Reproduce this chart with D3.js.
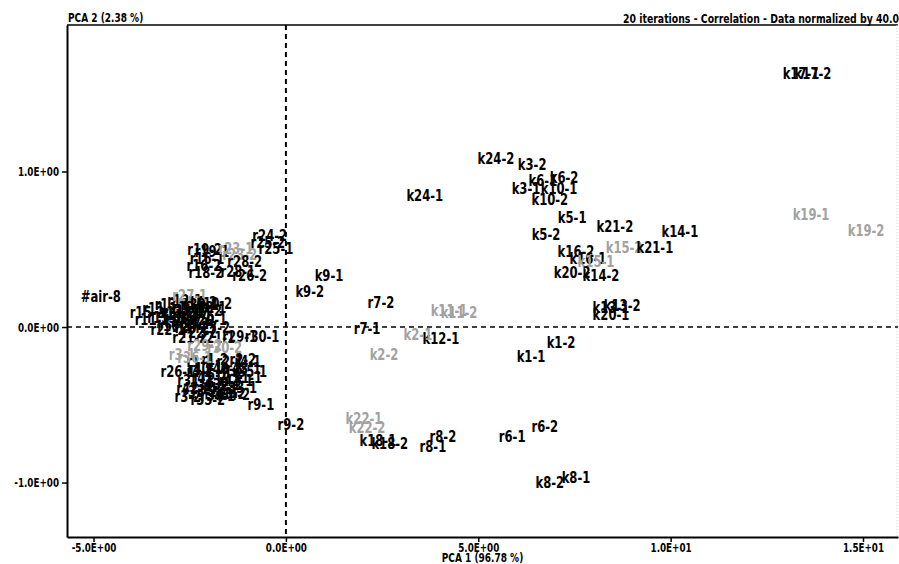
<!DOCTYPE html>
<html>
<head>
<meta charset="utf-8">
<script src="https://cdn.jsdelivr.net/npm/d3@7"></script>
<style>
	html, body { margin: 0; padding: 0; background: #fff; }
	svg { display: block; }
	.lbl { font-family: "Liberation Sans Narrow", "DejaVu Sans Condensed", sans-serif; font-weight: bold; font-size: 15px; }
	.axis text, .title { font-family: "Liberation Sans Narrow", "DejaVu Sans Condensed", sans-serif; font-weight: bold; font-size: 12.5px; fill: #000; }
</style>
</head>
<body>
<svg id="chart"></svg>
<script>

// Sample names, PCA 1 and PCA 2 scores
var labels = [
	'k17-1', 'k17-2', 'k24-2', 'k3-2', 'k6-2', 'k6-1', 'k3-1', 'k10-1', 'k10-2', 'k24-1',
	'k5-1', 'k5-2', 'k21-2', 'k15-2', 'k21-1', 'k14-1', 'k19-1', 'k19-2', 'k16-2', 'k16-1',
	'k15-1', 'k20-2', 'k14-2', 'k13-1', 'k13-2', 'k20-1', 'k1-2', 'k1-1', 'k11-1', 'k11-2',
	'k12-1', 'k2-1', 'k2-2', 'k9-1', 'k9-2', 'k22-1', 'k22-2', 'k18-1', 'k18-2', 'k8-1',
	'k8-2', 'r6-1', 'r6-2', 'r7-1', 'r7-2', 'r8-1', 'r8-2', 'r9-1', 'r9-2', 'r24-2',
	'r25-2', 'r25-1', '#air-8',
	// upper left group
	'r19-2', 'r19-1', 'r16-1', 'r16-2', 'r18-2', 'r23-1', 'r23-2', 'r28-2', 'r28-1', 'r26-2',
	// middle left group
	'r15-2', 'r11-2', 'r11-1', 'r15-1', 'r13-1', 'r13-2', 'r12-1', 'r12-2', 'r14-1', 'r14-2',
	'r17-1', 'r17-2', 'r20-1', 'r20-2', 'r10-1', 'r10-2', 'r22-1', 'r22-2', 'r27-1', 'r27-2',
	'r21-2', 'r21-1', 'r29-1', 'r30-1', 'r29-2', 'r30-2',
	'r37-1', 'r37-2', 'r38-1', 'r38-2', 'r39-1', 'r39-2',
	// lower left group
	'r3-1', 'r3-2', 'r26-1', 'r1-1', 'r1-2', 'r2-1', 'r2-2', 'r4-1', 'r4-2', 'r5-1',
	'r5-2', 'r31-1', 'r31-2', 'r32-1', 'r32-2', 'r33-1', 'r33-2', 'r34-1', 'r34-2', 'r35-1',
	'r35-2', 'r36-1',
	'r40-1', 'r40-2', 'r41-1', 'r41-2', 'r42-1', 'r42-2', 'r43-1', 'r43-2'
];

var pc1 = [
	13.39, 13.70, 5.46, 6.40, 7.23, 6.68, 6.24, 7.10, 6.86, 3.61,
	7.44, 6.76, 8.55, 8.79, 9.59, 10.24, 13.65, 15.08, 7.54, 7.85,
	8.06, 7.44, 8.19, 8.45, 8.74, 8.45, 7.15, 6.37, 4.24, 4.50,
	4.03, 3.43, 2.55, 1.12, 0.62, 2.03, 2.11, 2.39, 2.70, 7.54,
	6.86, 5.88, 6.73, 2.11, 2.47, 3.82, 4.08, -0.65, 0.13, -0.42,
	-0.47, -0.26, -4.81,
	-2.11, -1.92, -2.05, -2.13, -2.08, -1.30, -1.20, -1.07, -1.25, -0.94,
	-3.61, -3.48, -3.28, -3.15, -2.96, -2.81, -2.63, -2.50, -2.37, -2.24,
	-2.70, -2.11, -1.98, -2.44, -2.89, -1.85, -3.07, -2.24, -2.50, -1.90,
	-2.50, -1.77, -1.20, -0.62, -2.11, -1.59,
	-2.60, -2.30, -2.00, -2.75, -2.20, -2.45,
	-2.70, -2.55, -2.81, -2.24, -1.85, -1.46, -1.12, -0.99, -2.24, -1.85,
	-1.46, -1.07, -2.37, -2.00, -1.59, -1.20, -2.24, -1.77, -1.38, -0.94,
	-2.03, -2.37,
	-2.10, -1.60, -1.30, -2.00, -1.70, -2.40, -1.10, -1.50
];

var pc2 = [
	1.63, 1.63, 1.08, 1.04, 0.96, 0.94, 0.89, 0.89, 0.82, 0.84,
	0.70, 0.59, 0.64, 0.51, 0.51, 0.61, 0.72, 0.62, 0.48, 0.44,
	0.42, 0.35, 0.33, 0.12, 0.135, 0.08, -0.10, -0.19, 0.10, 0.09,
	-0.08, -0.05, -0.18, 0.33, 0.225, -0.59, -0.65, -0.73, -0.75, -0.97,
	-1.00, -0.71, -0.64, -0.01, 0.155, -0.77, -0.71, -0.50, -0.63, 0.585,
	0.54, 0.50, 0.19,
	0.495, 0.48, 0.44, 0.39, 0.35, 0.50, 0.46, 0.42, 0.355, 0.33,
	0.09, 0.045, 0.116, 0.058, 0.14, 0.09, 0.17, 0.12, 0.07, 0.155,
	0.03, 0.10, 0.045, -0.006, 0.006, 0.15, -0.02, -0.04, 0.20, -0.006,
	-0.07, -0.07, -0.064, -0.064, -0.12, -0.135,
	0.10, 0.04, 0.12, 0.06, 0.14, 0.02,
	-0.18, -0.45, -0.29, -0.225, -0.21, -0.225, -0.21, -0.225, -0.29, -0.31,
	-0.30, -0.33, -0.35, -0.38, -0.37, -0.39, -0.42, -0.445, -0.44, -0.29,
	-0.47, -0.20,
	-0.27, -0.27, -0.35, -0.33, -0.40, -0.40, -0.27, -0.43
];

// Samples printed in the lighter shade
var faded = [ 'k15-2', 'k19-1', 'k19-2', 'k15-1', 'k11-1', 'k11-2', 'k2-1', 'k2-2', 'k22-1', 'k22-2',
	'r23-1', 'r23-2', 'r27-1', 'r29-2', 'r30-2', 'r3-1', 'r36-1' ];

var xTicks = [ -5, 0, 5, 10, 15 ];
var yTicks = [ -1, 0, 1 ];

var xTitle = 'PCA 1 (96.78 %)';
var yTitle = 'PCA 2 (2.38 %)';
var subTitle = '20 iterations - Correlation - Data normalized by 40.00';

var width = 899;
var height = 564;
var margin = { top: 25, right: 1, bottom: 27, left: 67 };

var svg = d3.select( '#chart' )
	.attr( 'width', width )
	.attr( 'height', height );

var x = d3.scaleLinear()
	.domain( [ -5.69, 15.91 ] )
	.range( [ margin.left, width - margin.right ] );

var y = d3.scaleLinear()
	.domain( [ -1.35, 1.942 ] )
	.range( [ height - margin.bottom, margin.top ] );

// 1.0E+00 style numbers
var sci = function ( v ) {
	var s = v.toExponential( 1 ).toUpperCase();
	return s.replace( /E([+-])(\d)$/, 'E$10$2' );
};

var shade = d3.scaleOrdinal()
	.domain( [ false, true ] )
	.range( [ '#000', '#a2a2a2' ] );

// squeeze a text sideways so it looks like the narrow font of the original
var narrow = function ( sel, k ) {
	sel.each( function () {
		var len = this.getComputedTextLength();
		d3.select( this )
			.attr( 'textLength', len * k )
			.attr( 'lengthAdjust', 'spacingAndGlyphs' );
	} );
};

// Zero lines
svg.append( 'line' )
	.attr( 'x1', x( 0 ) ).attr( 'x2', x( 0 ) )
	.attr( 'y1', y.range()[1] ).attr( 'y2', y.range()[0] )
	.attr( 'stroke', '#000' )
	.attr( 'stroke-width', 2 )
	.attr( 'stroke-dasharray', '5,4' );

svg.append( 'line' )
	.attr( 'x1', x.range()[0] ).attr( 'x2', x.range()[1] )
	.attr( 'y1', y( 0 ) ).attr( 'y2', y( 0 ) )
	.attr( 'stroke', '#000' )
	.attr( 'stroke-width', 1.6 )
	.attr( 'stroke-dasharray', '5,4' );

// Frame
svg.append( 'line' )
	.attr( 'x1', x.range()[0] ).attr( 'x2', x.range()[1] )
	.attr( 'y1', y.range()[1] ).attr( 'y2', y.range()[1] )
	.attr( 'stroke', '#000' )
	.attr( 'stroke-width', 1.5 );

svg.append( 'line' )
	.attr( 'x1', x.range()[1] - 1 ).attr( 'x2', x.range()[1] - 1 )
	.attr( 'y1', y.range()[1] ).attr( 'y2', y.range()[0] )
	.attr( 'stroke', '#ccc' )
	.attr( 'stroke-width', 1 )
	.attr( 'stroke-dasharray', '1,2' );

var yAxis = svg.append( 'g' )
	.attr( 'class', 'axis' )
	.attr( 'transform', 'translate(' + x.range()[0] + ',0)' )
	.call( d3.axisLeft( y ).tickValues( yTicks ).tickFormat( sci ).tickSize( 5 ).tickSizeOuter( 0 ) );

var xAxis = svg.append( 'g' )
	.attr( 'class', 'axis' )
	.attr( 'transform', 'translate(0,' + y.range()[0] + ')' )
	.call( d3.axisBottom( x ).tickValues( xTicks ).tickFormat( sci ).tickSize( 5 ).tickSizeOuter( 0 ) );

[ yAxis, xAxis ].forEach( function ( a ) {
	a.select( '.domain' ).attr( 'stroke', '#000' ).attr( 'stroke-width', 2 );
	a.selectAll( '.tick line' ).attr( 'stroke', '#000' ).attr( 'stroke-width', 1.5 );
	a.selectAll( 'text' ).attr( 'font-family', null ).attr( 'font-size', null ).call( narrow, 0.78 );
} );
yAxis.selectAll( 'text' ).attr( 'x', -8 );
xAxis.selectAll( 'text' ).attr( 'y', 6 );

// Titles
svg.append( 'text' )
	.attr( 'class', 'title' )
	.attr( 'x', x.range()[0] + 1 )
	.attr( 'y', 22 )
	.text( yTitle )
	.call( narrow, 0.8 );

svg.append( 'text' )
	.attr( 'class', 'title' )
	.attr( 'x', 623 )
	.attr( 'y', 23 )
	.text( subTitle )
	.call( narrow, 0.83 );

svg.append( 'text' )
	.attr( 'class', 'title' )
	.attr( 'x', ( x.range()[0] + x.range()[1] ) / 2 )
	.attr( 'y', 562 )
	.attr( 'text-anchor', 'middle' )
	.text( xTitle )
	.call( narrow, 0.8 );

// Sample labels
var points = labels.map( function ( name, i ) {
	return { name: name, pc1: pc1[i], pc2: pc2[i], faded: faded.indexOf( name ) > -1 };
} );

svg.append( 'g' )
	.selectAll( 'text' )
	.data( points )
	.enter()
	.append( 'text' )
	.attr( 'class', 'lbl' )
	.attr( 'x', function ( d ) { return x( d.pc1 ); } )
	.attr( 'y', function ( d ) { return y( d.pc2 ); } )
	.attr( 'text-anchor', 'middle' )
	.attr( 'dominant-baseline', 'central' )
	.attr( 'fill', function ( d ) { return shade( d.faded ); } )
	.text( function ( d ) { return d.name; } )
	.call( narrow, 0.86 );

</script>
</body>
</html>
